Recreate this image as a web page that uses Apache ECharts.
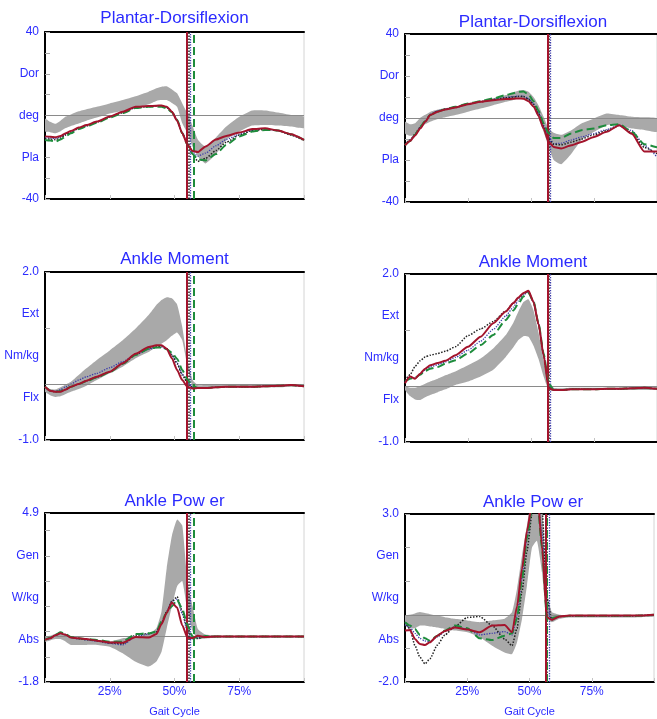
<!DOCTYPE html>
<html><head><meta charset="utf-8">
<script src="https://cdn.jsdelivr.net/npm/echarts@6/dist/echarts.min.js"></script>
<style>html,body{margin:0;padding:0;background:#fff}#c{width:657px;height:719px}</style>
</head><body><div id="c"></div>
<script>
// ---- shared gait-cycle sample points (% of cycle) ----
const gaitPct = [0,2,4,6,8,10,13,16,20,25,30,35,40,43,45,47,49,51,53,55,57,59,62,66,70,75,80,85,90,95,100];

// ---- axis label texts ----
const dfLabels  = ['-40','Pla','deg','Dor','40'];
const momLabels = ['-1.0','Flx','Nm/kg','Ext','2.0'];
const powLabelsL = ['-1.8','Abs','W/kg','Gen','4.9'];
const powLabelsR = ['-2.0','Abs','W/kg','Gen','3.0'];
const xTickLabels = ['', '25%', '50%', '75%', ''];

// ---- toe-off (red, green, black, blue) ----
const toeOffL = [54.9, 57.5, 55.6, 56.0];
const toeOffR = [56.7, 56.8, 56.9, 57.8];

// ---- Plantar-Dorsiflexion, left ----
const dfNormLoL = [-7.7,-8,-8.5,-7.5,-6,-5,-3.8,-2.5,-1,1,2.2,3.6,5.4,7,7.4,7.4,6,4.2,-3.7,-8.5,-15,-19.5,-23,-18.5,-11.7,-7.7,-4.8,-4.5,-4.8,-5.3,-6];
const dfNormHiL = [-1.4,-3,-4,-2.5,-0.5,0.5,2,3,4.2,5.8,7.4,9.2,11.4,13,13.8,14,12.5,10.6,5.8,1,-5,-11.5,-15,-10.5,-5.3,-0.6,2.4,2.4,1.4,0.2,-0.6];
const dfRedL   = [-10,-10.2,-10.4,-9.8,-8.5,-7.4,-5.8,-4.6,-2.9,-0.5,1.8,4.2,4.5,4.7,4.8,4.2,1.8,-2.5,-8.5,-14,-17,-17.5,-14.8,-11.5,-9.8,-8.2,-6.5,-6.1,-7.2,-9,-11.7];
const dfGreenL = [-11.7,-12,-12.5,-11.5,-10,-8.5,-6.5,-5.2,-3.5,-1,1.2,3.6,4.2,4.3,4.2,3.4,1.5,-2,-8.5,-14,-18.5,-21,-21.5,-18.5,-14,-10,-7.7,-6.9,-7.2,-9,-11.7];
const dfBlackL = [-11,-11.3,-11.6,-10.8,-9.3,-8,-6.2,-5,-3.2,-0.8,1.4,3.8,4.3,4.5,4.5,3.8,1.6,-2.2,-8.5,-14,-18.5,-22,-20.5,-16.8,-12.8,-9.4,-7.2,-6.6,-7.2,-9.4,-12];
const dfBlueL  = [-10.5,-10.8,-11,-10.3,-9,-7.8,-6,-4.8,-3,-0.6,1.6,4,4.4,4.6,4.6,4,1.7,-2.3,-8.2,-13.5,-17.5,-19.5,-18,-14.5,-11.5,-9,-7,-6.4,-7.2,-9.2,-11.8];

// ---- Plantar-Dorsiflexion, right ----
const dfNormLoR = [-7.4,-8.5,-8,-5,-3,-1.8,-0.5,0.4,1.4,3,4.5,6.1,7.7,8.6,9.3,9.3,8.5,6,0,-6.6,-13.8,-20,-22,-17,-10.6,-6.6,-3.4,-3.4,-5,-5.7,-6.6];
const dfNormHiR = [-1.8,-3,-2.5,0,1.5,2.9,4,4.6,5.3,6.5,7.7,9.3,10.9,12.2,13,13.3,12.5,10,6,0.6,-5,-7,-8,-5.8,-2.6,-0.2,2.1,1.4,0.6,0.3,-0.2];
const dfRedR   = [-13,-11,-8.3,-5,-1.8,1.4,3,4,5,6.6,7.7,8.5,9,9.2,9.3,9.2,8,5.5,1,-5,-11.4,-13.8,-14.5,-13,-11.4,-9,-6.6,-3.4,-7.5,-16,-16];
const dfGreenR = [-13,-11,-8,-4.2,-1.5,1.4,3,4.2,5.3,6.9,8,9.3,10.9,11.8,12.5,12.6,11.2,8,3.5,-2.6,-7.4,-9.5,-9.5,-7.4,-5.8,-5,-3.4,-3,-6.5,-12.5,-14];
const dfBlackR = [-12.5,-10.5,-7.8,-4.5,-1.5,1.6,3.2,4.2,5.1,6.7,7.8,8.8,9.6,10,10.2,10.2,9,6.5,2,-4,-10,-12.5,-12.8,-11.5,-10,-8,-6,-3.6,-7,-14,-17];
const dfBlueR  = [-12.5,-10.5,-7.8,-4.5,-1.4,1.8,3.4,4.4,5.2,6.8,7.8,8.8,9.8,10.2,10.4,10.4,9.2,6.8,2.5,-3.5,-9,-12.2,-12,-10.5,-9,-7.4,-5.5,-3.4,-6,-13,-18.6];

// ---- Ankle Moment, left ----
const mNormLoL = [-0.14,-0.2,-0.23,-0.22,-0.18,-0.14,-0.09,-0.03,0.07,0.19,0.31,0.46,0.57,0.66,0.72,0.78,0.86,0.92,0.78,0.31,-0.05,-0.07,-0.07,-0.06,-0.06,-0.06,-0.06,-0.06,-0.06,-0.05,-0.05];
const mNormHiL = [-0.05,-0.09,-0.1,-0.06,-0.01,0.04,0.16,0.28,0.43,0.6,0.78,0.99,1.23,1.41,1.5,1.55,1.53,1.42,1.02,0.43,0.07,-0.02,-0.02,-0.02,-0.02,-0.02,-0.02,-0.02,-0.01,-0.01,-0.01];
const mRedL   = [-0.05,-0.12,-0.14,-0.14,-0.1,-0.05,0,0.06,0.13,0.22,0.37,0.54,0.66,0.69,0.69,0.63,0.46,0.25,0.07,-0.05,-0.08,-0.07,-0.07,-0.06,-0.05,-0.05,-0.05,-0.04,-0.03,-0.02,-0.04];
const mGreenL = [-0.05,-0.12,-0.14,-0.13,-0.09,-0.05,0,0.05,0.12,0.21,0.36,0.52,0.63,0.65,0.65,0.62,0.56,0.45,0.25,0.08,-0.03,-0.07,-0.07,-0.06,-0.05,-0.05,-0.05,-0.04,-0.03,-0.02,-0.04];
const mBlackL = [-0.05,-0.12,-0.14,-0.13,-0.1,-0.05,0,0.06,0.12,0.22,0.36,0.53,0.64,0.67,0.67,0.63,0.52,0.36,0.16,0.02,-0.06,-0.07,-0.07,-0.06,-0.05,-0.05,-0.05,-0.04,-0.03,-0.02,-0.04];
const mBlueL  = [-0.05,-0.12,-0.13,-0.1,-0.05,0,0.07,0.13,0.19,0.29,0.4,0.52,0.62,0.65,0.66,0.62,0.52,0.38,0.18,0.02,-0.06,-0.07,-0.07,-0.06,-0.05,-0.05,-0.05,-0.04,-0.03,-0.02,-0.04];

// ---- Ankle Moment, right ----
const mNormLoR = [-0.07,-0.18,-0.24,-0.25,-0.2,-0.16,-0.11,-0.06,0.02,0.08,0.17,0.29,0.52,0.69,0.82,0.89,0.88,0.72,0.48,0.17,-0.07,-0.09,-0.08,-0.07,-0.07,-0.07,-0.07,-0.07,-0.07,-0.07,-0.07];
const mNormHiR = [-0.01,-0.03,-0.03,0,0.04,0.08,0.13,0.19,0.26,0.37,0.49,0.67,0.91,1.13,1.33,1.5,1.55,1.35,0.95,0.46,0.05,-0.03,-0.04,-0.03,-0.03,-0.03,-0.03,-0.03,-0.03,-0.03,-0.03];
const mRedR   = [0.05,0.17,0.13,0.22,0.31,0.37,0.41,0.45,0.55,0.7,0.88,1.12,1.33,1.48,1.58,1.66,1.7,1.5,1.1,0.55,-0.04,-0.07,-0.07,-0.06,-0.06,-0.06,-0.05,-0.05,-0.04,-0.03,-0.05];
const mGreenR = [0.08,0.13,0.15,0.2,0.27,0.31,0.34,0.4,0.46,0.58,0.73,0.91,1.18,1.35,1.47,1.6,1.66,1.51,1.12,0.58,0.05,-0.07,-0.07,-0.06,-0.06,-0.06,-0.05,-0.05,-0.04,-0.03,-0.05];
const mBlackR = [0.1,0.2,0.35,0.45,0.52,0.55,0.58,0.62,0.7,0.9,1.02,1.15,1.34,1.48,1.57,1.65,1.69,1.5,1.1,0.55,0,-0.07,-0.07,-0.06,-0.06,-0.06,-0.05,-0.05,-0.04,-0.03,-0.05];
const mBlueR  = [0.07,0.15,0.14,0.21,0.29,0.34,0.38,0.43,0.51,0.64,0.8,1.01,1.25,1.41,1.52,1.63,1.68,1.5,1.11,0.56,0,-0.07,-0.07,-0.06,-0.06,-0.06,-0.05,-0.05,-0.04,-0.03,-0.05];

// ---- Ankle Power, left ----
const pNormLoL = [-0.2,-0.15,-0.1,-0.1,-0.2,-0.33,-0.33,-0.33,-0.33,-0.4,-0.66,-1.0,-1.19,-0.99,-0.6,0.33,1.2,2.0,2.2,1.0,0.2,-0.1,-0.08,-0.04,-0.04,-0.04,-0.04,-0.04,-0.04,-0.04,-0.04];
const pNormHiL = [-0.04,0.03,0.1,0.12,0.07,-0.04,-0.08,-0.1,-0.13,-0.2,-0.07,0,0.1,0.33,1.0,2.72,4.0,4.64,4.4,2.2,1.2,0.3,0.08,0.04,0.03,0.03,0.03,0.03,0.03,0.03,0.03];
const pRedL   = [-0.13,-0.07,0.05,0.13,0.07,-0.04,-0.07,-0.1,-0.16,-0.23,-0.24,-0.02,-0.04,0.1,0.5,0.95,1.35,1.15,0.45,-0.05,-0.06,0.03,-0.02,0,0,0,0,0,0,0,0];
const pGreenL = [-0.13,-0.05,0.07,0.17,0.1,-0.02,-0.07,-0.1,-0.13,-0.2,-0.2,0.1,0.13,0.2,0.6,0.95,1.2,1.46,1.1,0.45,0,-0.06,0.02,0,0,0,0,0,0,0,0];
const pBlackL = [-0.12,-0.06,0.06,0.15,0.08,-0.03,-0.08,-0.12,-0.16,-0.25,-0.28,0.05,0.12,0.18,0.55,1.0,1.4,1.58,1.0,0.3,-0.05,-0.08,0.01,0,0,0,0,0,0,0,0];
const pBlueL  = [-0.12,-0.06,0.05,0.14,0.08,-0.04,-0.09,-0.13,-0.18,-0.27,-0.33,0,0.1,0.2,0.55,1.0,1.4,1.5,0.9,0.2,-0.1,-0.05,0,0,0,0,0,0,0,0,0];

// ---- Ankle Power, right ----
const pNormLoR = [-0.32,-0.4,-0.4,-0.32,-0.32,-0.35,-0.38,-0.42,-0.47,-0.52,-0.67,-0.92,-1.12,-1.17,-0.82,-0.12,0.88,2.0,2.2,1.27,-0.12,-0.22,-0.12,-0.08,-0.08,-0.08,-0.08,-0.08,-0.08,-0.07,-0.06];
const pNormHiR = [-0.02,0,0.04,0.08,0.05,0.02,-0.02,-0.07,-0.12,-0.17,-0.22,-0.17,-0.12,0.08,0.78,1.77,2.67,3.6,4,3.3,0.68,0.08,0,-0.02,-0.02,-0.02,-0.02,-0.02,-0.02,-0.01,0];
const pRedR   = [-0.47,-0.45,-0.72,-0.87,-0.9,-0.82,-0.62,-0.48,-0.38,-0.44,-0.52,-0.32,-0.3,-0.52,0.25,1.37,2.5,3.3,3.8,2.07,-0.07,-0.15,-0.05,-0.02,-0.02,-0.02,-0.02,-0.02,-0.02,-0.02,0];
const pGreenR = [-0.22,-0.32,-0.42,-0.6,-0.7,-0.77,-0.62,-0.47,-0.32,-0.4,-0.7,-0.75,-0.62,-0.55,-0.1,1.08,2.3,3.2,3.6,2.0,-0.12,-0.1,-0.05,-0.03,-0.03,-0.03,-0.03,-0.03,-0.03,-0.02,0];
const pBlackR = [-0.22,-0.42,-0.92,-1.26,-1.46,-1.31,-0.9,-0.6,-0.35,-0.08,-0.05,-0.32,-0.72,-0.92,-0.4,0.7,1.9,3.0,3.6,3.2,0.5,-0.15,-0.05,-0.03,-0.03,-0.03,-0.03,-0.03,-0.03,-0.02,0];
const pBlueR  = [-0.3,-0.38,-0.55,-0.7,-0.78,-0.8,-0.66,-0.5,-0.36,-0.42,-0.6,-0.55,-0.5,-0.6,-0.05,1.1,2.3,3.2,3.7,2.5,0.1,-0.12,-0.05,-0.03,-0.03,-0.03,-0.03,-0.03,-0.03,-0.02,0];

// ---- styling ----
const BLUE = '#2b2bff';
const FONT = 'Liberation Sans, Arial, sans-serif';
const C_RED = '#a3142c', C_GREEN = '#1e8c3c', C_BLACK = '#222222', C_BLUE = '#3c3caa';

const panels = [
  {title:'Plantar-Dorsiflexion', left:45, top:32, w:259, h:167, ty:18, min:-40, max:40, tick:10, labels:dfLabels, lo:dfNormLoL, hi:dfNormHiL, red:dfRedL, green:dfGreenL, black:dfBlackL, blue:dfBlueL, toe:toeOffL, bottom:false},
  {title:'Plantar-Dorsiflexion', left:405, top:34, w:256, h:168, ty:22, min:-40, max:40, tick:10, labels:dfLabels, lo:dfNormLoR, hi:dfNormHiR, red:dfRedR, green:dfGreenR, black:dfBlackR, blue:dfBlueR, toe:toeOffR, bottom:false},
  {title:'Ankle Moment', left:45, top:272, w:259, h:168, ty:259, min:-1, max:2, tick:1, labels:momLabels, lo:mNormLoL, hi:mNormHiL, red:mRedL, green:mGreenL, black:mBlackL, blue:mBlueL, toe:toeOffL, bottom:false},
  {title:'Ankle Moment', left:405, top:274, w:256, h:168, ty:262, min:-1, max:2, tick:1, labels:momLabels, lo:mNormLoR, hi:mNormHiR, red:mRedR, green:mGreenR, black:mBlackR, blue:mBlueR, toe:toeOffR, bottom:false},
  {title:'Ankle Pow er', left:45, top:513, w:259, h:169, ty:501, min:-1.8, max:4.9, tick:1, labels:powLabelsL, lo:pNormLoL, hi:pNormHiL, red:pRedL, green:pGreenL, black:pBlackL, blue:pBlueL, toe:toeOffL, bottom:true},
  {title:'Ankle Pow er', left:405, top:514, w:256, h:168, ty:502, min:-2, max:3, tick:1, labels:powLabelsR, lo:pNormLoR, hi:pNormHiR, red:pRedR, green:pGreenR, black:pBlackR, blue:pBlueR, toe:toeOffR, bottom:true}
];

const pairs = arr => gaitPct.map((x, i) => [x, arr[i]]);
const SM = 0.2;

const option = {animation:false, backgroundColor:'#ffffff', textStyle:{fontFamily:FONT},
  title:[], grid:[], xAxis:[], yAxis:[], series:[]};

panels.forEach((p, k) => {
  const xi = 2*k, yi = 2*k;
  option.grid.push({left:p.left, top:p.top, width:p.w, height:p.h, show:true,
    borderColor:'#d4d4d4', borderWidth:1, backgroundColor:'#ffffff'});
  option.title.push({text:p.title, left:p.left + p.w/2, top:p.ty - 10, textAlign:'center', padding:0,
    textStyle:{color:BLUE, fontSize:17, fontWeight:'normal', fontFamily:FONT, lineHeight:20}});
  option.xAxis.push({type:'value', gridIndex:k, position:'bottom', min:0, max:100, interval:25,
    axisLine:{show:true, onZero:false, lineStyle:{color:'#000', width:2}},
    axisTick:{show:true, inside:true, length:4, lineStyle:{color:'#c4c4c4'}},
    splitLine:{show:false},
    axisLabel:{show:p.bottom, color:BLUE, fontSize:12, margin:4, fontFamily:FONT,
      formatter: v => xTickLabels[Math.round(v/25)] || ''},
    name: p.bottom ? 'Gait Cycle' : '', nameLocation:'middle', nameGap:24,
    nameTextStyle:{color:BLUE, fontSize:11, fontFamily:FONT}});
  option.xAxis.push({type:'value', gridIndex:k, position:'top', min:0, max:100,
    axisLine:{show:true, onZero:false, lineStyle:{color:'#000', width:2}},
    axisTick:{show:false}, axisLabel:{show:false}, splitLine:{show:false}});
  option.yAxis.push({type:'value', gridIndex:k, position:'left', min:p.min, max:p.max, interval:p.tick,
    axisLine:{show:true, onZero:false, lineStyle:{color:'#000', width:2}},
    axisTick:{show:true, inside:true, length:5, lineStyle:{color:'#a8a8a8'}},
    axisLabel:{show:false}, splitLine:{show:false}});
  const labs = p.labels;
  option.yAxis.push({type:'value', gridIndex:k, position:'left', min:0, max:4, interval:1,
    axisLine:{show:false}, axisTick:{show:false}, splitLine:{show:false},
    axisLabel:{show:true, color:BLUE, fontSize:12, margin:6, fontFamily:FONT,
      formatter: v => labs[Math.round(v)]}});

  // normal band as a polygon through the axis scales
  const lo = p.lo, hi = p.hi;
  option.series.push({type:'custom', coordinateSystem:'cartesian2d', xAxisIndex:xi, yAxisIndex:yi,
    silent:true, clip:true, z:1,
    data: gaitPct.map((x, i) => [x, lo[i], hi[i]]),
    encode:{x:0, y:[1,2]},
    renderItem: (params, api) => {
      if (params.dataIndex !== 0) return null;
      const top = gaitPct.map((x, i) => api.coord([x, hi[i]]));
      const bot = gaitPct.map((x, i) => api.coord([x, lo[i]])).reverse();
      return {type:'polygon', shape:{points: top.concat(bot), smooth:0.15},
        style:{fill:'#a9a9a9', stroke:null}};
    }});

  const base = {type:'line', xAxisIndex:xi, yAxisIndex:yi, symbol:'none', smooth:SM, smoothMonotone:'x', silent:true};
  const lines = [
    {d:p.blue, c:C_BLUE, w:1.3, t:'dotted', toe:p.toe[3]},
    {d:p.black, c:C_BLACK, w:1.5, t:'dotted', toe:p.toe[2]},
    {d:p.green, c:C_GREEN, w:2, t:'dashed', toe:p.toe[1]},
    {d:p.red, c:C_RED, w:2, t:'solid', toe:p.toe[0]}
  ];
  lines.forEach((l, j) => {
    const mlData = [{xAxis:l.toe}];
    if (j === 0) mlData.unshift({yAxis:0, lineStyle:{color:'#8a8a8a', width:1, type:'solid'}});
    option.series.push(Object.assign({}, base, {data:pairs(l.d), z:3+j,
      lineStyle:{color:l.c, width:l.w, type:l.t},
      markLine:{silent:true, symbol:['none','none'], label:{show:false},
        lineStyle:{color:l.c, width:l.w, type:l.t}, data:mlData}}));
  });
});

const chart = echarts.init(document.getElementById('c'));
chart.setOption(option);
</script>
</body></html>
